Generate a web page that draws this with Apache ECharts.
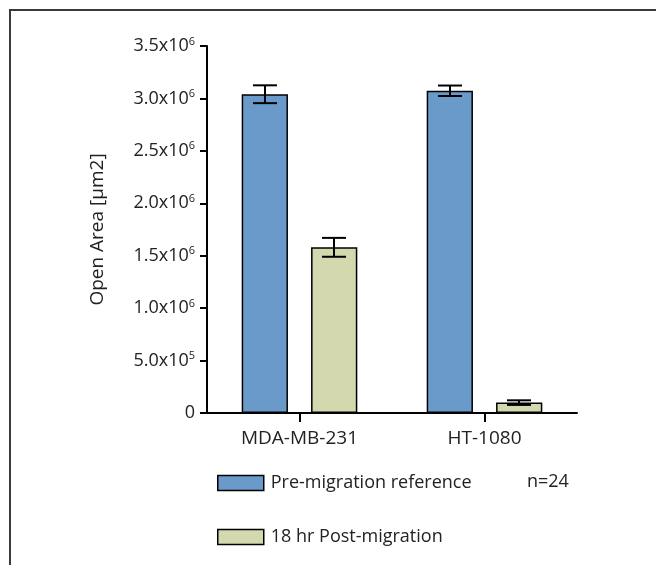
<!DOCTYPE html>
<html>
<head>
<meta charset="utf-8">
<script src="https://cdn.jsdelivr.net/npm/echarts@6/dist/echarts.min.js"></script>
<style>
html,body{margin:0;padding:0;background:#fff;}
#chart{width:656px;height:565px;}
</style>
</head>
<body>
<div id="chart"></div>
<script>
var categories = ['MDA-MB-231', 'HT-1080'];
var seriesNames = ['Pre-migration reference', '18 hr Post-migration'];
var preValues = [3040000, 3073000];
var preErrors = [85000, 50000];
var postValues = [1580000, 99000];
var postErrors = [90000, 22000];
var yTicks = [0, 500000, 1000000, 1500000, 2000000, 2500000, 3000000, 3500000];
var noteText = 'n=24';

var FONT = '"Open Sans", "Noto Sans", sans-serif';
var TXT = '#222222';
var colors = ['#6a9ac9', '#d4d8ae'];

function tickLabel(v) {
  if (v === 0) return '0';
  var exp = Math.floor(Math.log10(v));
  var mant = (v / Math.pow(10, exp)).toFixed(1);
  return mant + 'x10{s|' + exp + '}';
}

function errorSeries(values, errors, side) {
  var data = values.map(function (v, i) { return [i, v, errors[i]]; });
  return {
    type: 'custom',
    z: 5,
    silent: true,
    data: data,
    renderItem: function (params, api) {
      var idx = api.value(0);
      var v = api.value(1), e = api.value(2);
      var band = api.size([1, 0])[0];
      var center = api.coord([idx, v]);
      var x = center[0] + side * band * 0.1865;
      var yTop = api.coord([idx, v + e])[1];
      var yBot = api.coord([idx, v - e])[1];
      var half = band * 0.065;
      var st = { stroke: '#000', lineWidth: 2 };
      return {
        type: 'group',
        children: [
          { type: 'line', shape: { x1: x, y1: yTop, x2: x, y2: yBot }, style: st },
          { type: 'line', shape: { x1: x - half, y1: yTop, x2: x + half, y2: yTop }, style: st },
          { type: 'line', shape: { x1: x - half, y1: yBot, x2: x + half, y2: yBot }, style: st }
        ]
      };
    }
  };
}

var chart = echarts.init(document.getElementById('chart'), null, { renderer: 'canvas' });
chart.setOption({
  animation: false,
  backgroundColor: '#ffffff',
  grid: { left: 207, right: 79, top: 46, bottom: 152, containLabel: false },
  legend: {
    orient: 'vertical',
    left: 217,
    top: 474,
    padding: 0,
    itemWidth: 46,
    itemHeight: 15,
    itemGap: 36,
    icon: 'rect',
    selectedMode: false,
    data: seriesNames,
    textStyle: { fontFamily: FONT, fontSize: 18, color: TXT, padding: [0, 0, 0, 2] },
    itemStyle: { borderColor: '#000', borderWidth: 1.5 }
  },
  xAxis: {
    type: 'category',
    data: categories,
    axisLine: { lineStyle: { color: '#000', width: 2 } },
    axisTick: { show: true, alignWithLabel: true, length: 9, lineStyle: { color: '#000', width: 2 } },
    axisLabel: { fontFamily: FONT, fontSize: 19, color: TXT, margin: 16 },
    splitLine: { show: false }
  },
  yAxis: {
    type: 'value',
    min: 0,
    max: 3500000,
    interval: 500000,
    name: 'Open Area [\u00b5m2]',
    nameLocation: 'middle',
    nameGap: 100,
    nameTextStyle: { fontFamily: FONT, fontSize: 19, color: TXT },
    axisLine: { show: true, lineStyle: { color: '#000', width: 2 } },
    axisTick: { show: true, inside: false, length: 7, lineStyle: { color: '#000', width: 2 } },
    splitLine: { show: false },
    axisLabel: {
      fontFamily: FONT, fontSize: 18, color: TXT, margin: 12,
      formatter: function (v) { return tickLabel(v); },
      rich: {
        s: { fontFamily: FONT, fontSize: 11, color: TXT, verticalAlign: 'top', padding: [0, 0, 9, 0] }
      }
    }
  },
  series: [
    {
      name: seriesNames[0],
      type: 'bar',
      data: preValues,
      barWidth: '25%',
      barGap: '50%',
      itemStyle: { color: colors[0], borderColor: '#000', borderWidth: 1.5 }
    },
    {
      name: seriesNames[1],
      type: 'bar',
      data: postValues,
      barWidth: '25%',
      barGap: '50%',
      itemStyle: { color: colors[1], borderColor: '#000', borderWidth: 1.5 }
    },
    errorSeries(preValues, preErrors, -1),
    errorSeries(postValues, postErrors, 1)
  ],
  graphic: [
    { type: 'line', shape: { x1: 10, y1: 10, x2: 656, y2: 10 }, style: { stroke: '#3a3a3a', lineWidth: 2 } },
    { type: 'line', shape: { x1: 10, y1: 9, x2: 10, y2: 565 }, style: { stroke: '#3a3a3a', lineWidth: 2 } },
    { type: 'text', left: 527, top: 473, style: { text: noteText, font: '18px ' + FONT, fill: TXT } }
  ]
});
</script>
</body>
</html>
